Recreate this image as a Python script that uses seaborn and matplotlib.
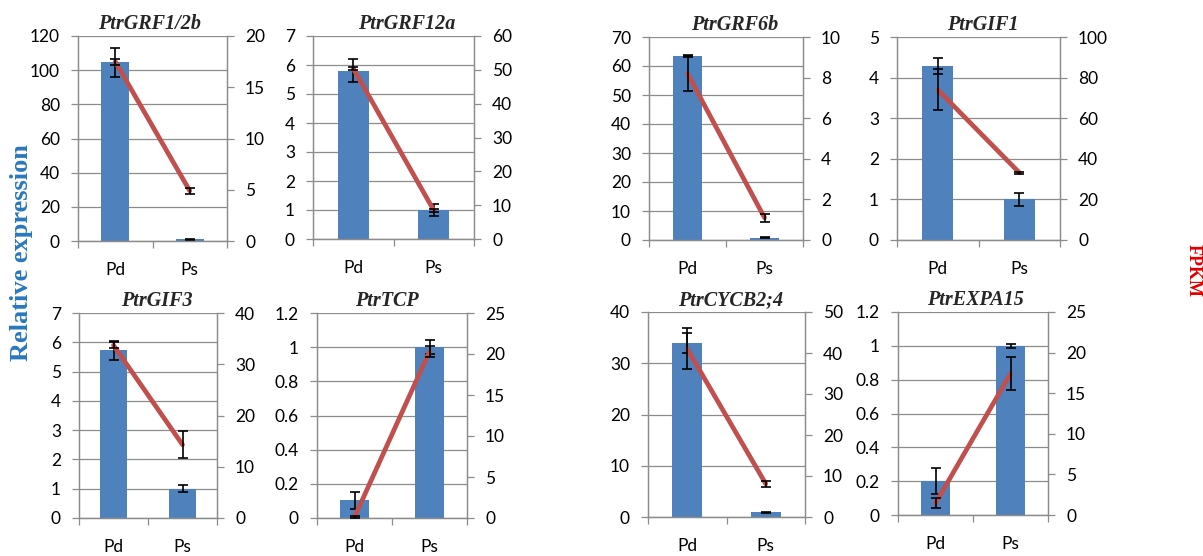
import matplotlib
matplotlib.use("Agg")
import matplotlib.pyplot as plt
import seaborn as sns
import numpy as np
import pandas as pd
from matplotlib.ticker import FuncFormatter

# ---------------- data ----------------
genes = ["PtrGRF1/2b", "PtrGRF12a", "PtrGRF6b", "PtrGIF1",
         "PtrGIF3", "PtrTCP", "PtrCYCB2;4", "PtrEXPA15"]
groups = ["Pd", "Ps"]

rel_pd = [104.5, 5.8, 63.5, 4.28, 5.72, 0.105, 34.0, 0.2]
rel_ps = [1.0, 1.0, 0.8, 1.0, 1.0, 1.0, 0.9, 1.0]
rel_pd_err = [8.5, 0.4, 0.3, 0.2, 0.33, 0.05, 2.0, 0.075]
rel_ps_err = [0.3, 0.2, 0.2, 0.16, 0.11, 0.04, 0.15, 0.01]

fpkm_pd = [17.5, 50.4, 8.2, 74.0, 33.7, 0.1, 41.0, 1.45]
fpkm_ps = [4.9, 8.5, 1.1, 33.2, 14.3, 20.3, 8.1, 17.4]
fpkm_pd_err = [0.3, 0.5, 0.85, 10.0, 0.6, 0.1, 5.0, 0.6]
fpkm_ps_err = [0.3, 0.4, 0.2, 0.5, 2.6, 0.7, 0.7, 2.0]

left_max = [120, 7, 70, 5, 7, 1.2, 40, 1.2]
left_step = [20, 1, 10, 1, 1, 0.2, 10, 0.2]
right_max = [20, 60, 10, 100, 40, 25, 50, 25]
right_step = [5, 10, 2, 20, 10, 5, 10, 5]

# ---------------- style ----------------
BLUE = "#4F81BD"
RED = "#C0504D"
GRID = "#8C8C8C"

sns.set_theme(style="white")
plt.rcParams['font.family'] = ['Lato', 'DejaVu Sans']

W, H = 1203, 556
fig = plt.figure(figsize=(W / 100, H / 100), dpi=100)

# plot-area boxes in pixels: left, right, top, bottom
boxes = [(78, 227, 36, 241), (313, 474, 36, 239), (649, 803, 37, 240), (897, 1060, 37, 240),
         (79, 217, 313, 518), (317, 467, 313, 518), (648, 805, 312, 517), (898, 1048, 312, 515)]
title_cx = [150, 407, 735, 983, 157, 387, 731, 975]

fmt = FuncFormatter(lambda v, p: f"{round(v, 6):g}")
TICK_FS = 12.5

for i, g in enumerate(genes):
    l, r, t, b = boxes[i]
    ax = fig.add_axes([l / W, 1 - b / H, (r - l) / W, (b - t) / H])
    df = pd.DataFrame({"group": groups, "rel": [rel_pd[i], rel_ps[i]]})
    sns.barplot(data=df, x="group", y="rel", ax=ax, color=BLUE, width=0.38,
                saturation=1, errorbar=None, linewidth=0, zorder=2)
    ax.errorbar([0, 1], [rel_pd[i], rel_ps[i]], yerr=[rel_pd_err[i], rel_ps_err[i]],
                fmt="none", ecolor="black", elinewidth=1.2, capsize=3.6, capthick=1.2, zorder=3)
    ax.set_ylim(0, left_max[i])
    ax.set_yticks(np.arange(0, left_max[i] + left_step[i] / 2, left_step[i]))
    ax.yaxis.set_major_formatter(fmt)
    ax.grid(axis="y", color=GRID, lw=0.9)
    ax.grid(axis="x", visible=False)
    ax.set_axisbelow(True)
    ax.set_xlabel("")
    ax.set_ylabel("")
    ax.set_xticks([0, 1])
    ax.set_xticklabels(groups)
    ax.set_xticks([-0.5, 0.5, 1.5], minor=True)
    ax.tick_params(axis="x", which="major", length=0, pad=15, labelsize=TICK_FS, labelcolor="black")
    ax.tick_params(axis="x", which="minor", length=5, width=0.9, color=GRID, direction="out", bottom=True)
    ax.tick_params(axis="y", length=5, width=0.9, color=GRID, direction="out", pad=8,
                   labelsize=TICK_FS, labelcolor="black", left=True)
    for s in ["left", "bottom", "right"]:
        ax.spines[s].set_color(GRID)
        ax.spines[s].set_linewidth(0.9)
    ax.spines["top"].set_visible(False)

    ax2 = ax.twinx()
    sns.lineplot(x=[0, 1], y=[fpkm_pd[i], fpkm_ps[i]], ax=ax2, color=RED, lw=3.4, zorder=4)
    ax2.errorbar([0, 1], [fpkm_pd[i], fpkm_ps[i]], yerr=[fpkm_pd_err[i], fpkm_ps_err[i]],
                 fmt="none", ecolor="black", elinewidth=1.2, capsize=3.6, capthick=1.2, zorder=5)
    ax2.set_ylim(0, right_max[i])
    ax2.set_yticks(np.arange(0, right_max[i] + right_step[i] / 2, right_step[i]))
    ax2.yaxis.set_major_formatter(fmt)
    ax2.grid(False)
    ax2.set_ylabel("")
    ax2.tick_params(axis="y", length=5, width=0.9, color=GRID, direction="out", pad=8,
                    labelsize=TICK_FS, labelcolor="black", right=True)
    for s in ["left", "bottom", "right"]:
        ax2.spines[s].set_color(GRID)
        ax2.spines[s].set_linewidth(0.9)
    ax2.spines["top"].set_visible(False)
    ax.set_xlim(-0.5, 1.5)

    ax2.set_title(g, x=(title_cx[i] - l) / (r - l), pad=5, fontsize=14.5,
                  fontfamily="Liberation Serif", fontweight="bold", fontstyle="italic")

fig.text(22 / W, 1 - 253 / H, "Relative expression", rotation=90, ha="center", va="center",
         fontsize=19, fontfamily="Liberation Serif", fontweight="bold", color="#2878BE")
fig.text(1193 / W, 1 - 270 / H, "FPKM", rotation=-90, ha="center", va="center",
         fontsize=13, fontfamily="Liberation Serif", fontweight="bold", color="#E00000")

fig.savefig("out.png", dpi=100, facecolor="white")
